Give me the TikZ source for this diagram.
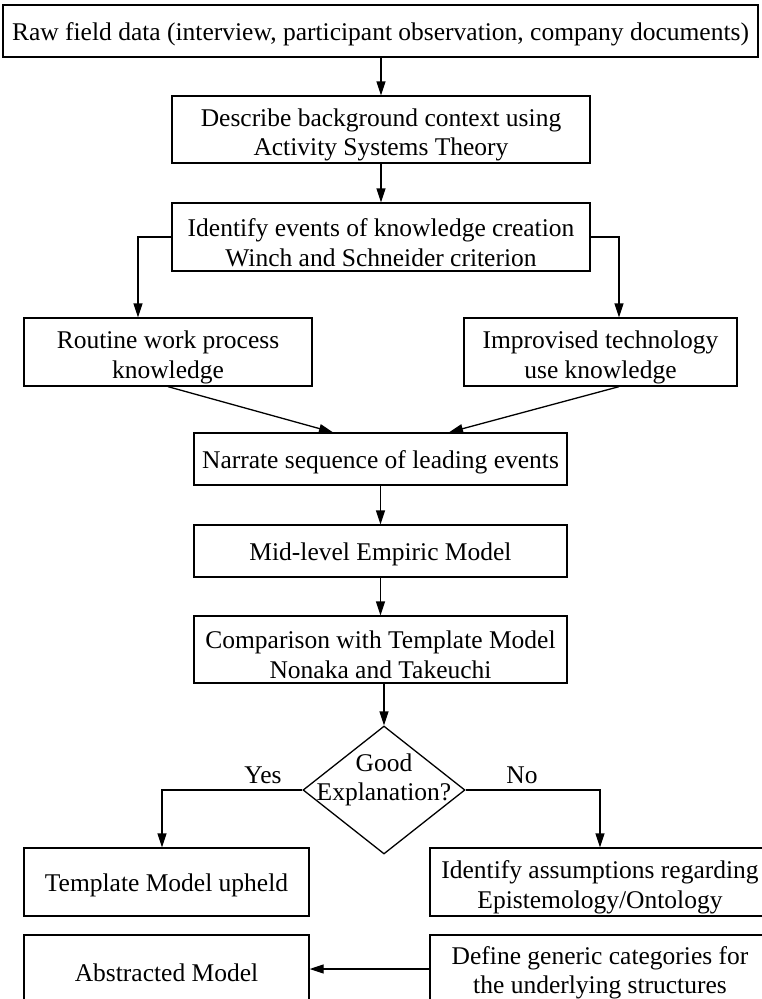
\documentclass[tikz,border=0pt]{standalone}
\usepackage{fontspec}
\setmainfont{Liberation Serif}
\usetikzlibrary{shapes.geometric,arrows.meta}
\begin{document}
\begin{tikzpicture}[x=1pt,y=-1pt,
  every node/.style={font=\fontsize{25.5}{29.5}\selectfont},
  box/.style={draw,line width=1.3pt,align=center,inner sep=0pt,
    execute at begin node={\rule{0pt}{24.5pt}}},
  txt/.style={align=center,inner sep=0pt},
  conn/.style={line width=1.3pt,-{Triangle[length=14pt,width=9pt]}}]
\useasboundingbox (0,0) rectangle (762,999);
\clip (0,0) rectangle (762,999);

\node[box,minimum width=755pt,minimum height=52pt] (raw) at (380.5,31) {Raw field data (interview, participant observation, company documents)};
\node[box,minimum width=418pt,minimum height=67pt] (desc) at (381,129.5) {};
\node[txt] (desc-t) at ([yshift=-5.5pt]desc.center) {Describe background context using\\Activity Systems Theory};
\node[box,minimum width=418pt,minimum height=68pt] (ident) at (381,237) {};
\node[txt] (ident-t) at ([yshift=-5.5pt]ident.center) {Identify events of knowledge creation\\Winch and Schneider criterion};
\node[box,minimum width=288pt,minimum height=68pt] (rout) at (168,352) {};
\node[txt] (rout-t) at ([yshift=-5.5pt]rout.center) {Routine work process\\knowledge};
\node[box,minimum width=273pt,minimum height=68pt] (impr) at (600.5,352) {};
\node[txt] (impr-t) at ([yshift=-5.5pt]impr.center) {Improvised technology\\use knowledge};
\node[box,minimum width=373pt,minimum height=52pt] (narr) at (380.5,459) {Narrate sequence of leading events};
\node[box,minimum width=373pt,minimum height=52pt] (mid) at (380.5,551) {Mid-level Empiric Model};
\node[box,minimum width=373pt,minimum height=67pt] (comp) at (380.5,649.5) {};
\node[txt] (comp-t) at ([yshift=-5.5pt]comp.center) {Comparison with Template Model\\Nonaka and Takeuchi};
\node[draw,diamond,line width=1.3pt,minimum width=162pt,minimum height=128pt,inner sep=0pt] (dec) at (384,790) {};
\node[txt] (dectext) at (384,780) {Good\\Explanation?};
\node (yes) at (263,775) {Yes};
\node (no) at (522,775) {No};
\node[box,minimum width=285pt,minimum height=68pt] (tmpl) at (166.5,882) {Template Model upheld};
\node[box,minimum width=340pt,minimum height=68pt] (assum) at (600,882) {};
\node[txt] (assum-t) at ([yshift=-5.5pt]assum.center) {Identify assumptions regarding\\Epistemology/Ontology};
\node[box,minimum width=285pt,minimum height=68pt] (abs) at (166.5,969) {Abstracted Model};
\node[box,minimum width=340pt,minimum height=68pt] (def) at (600,969) {};
\node[txt] (def-t) at ([yshift=-4pt]def.center) {Define generic categories for\\the underlying structures};

\coordinate (bl) at (138,0);
\coordinate (br) at (619,0);
\coordinate (nl) at (333,0);
\coordinate (nr) at (449,0);
\coordinate (tl) at (162,0);

\draw[conn] (desc.north |- raw.south) -- (desc.north);
\draw[conn] (desc) -- (ident);
\draw[conn] (ident.west) -| (bl |- rout.north);
\draw[conn] (ident.east) -| (br |- impr.north);
\draw[conn] (rout.south) -- (nl |- narr.north);
\draw[conn] (br |- impr.south) -- (nr |- narr.north);
\draw[conn] (narr) -- (mid);
\draw[conn] (mid) -- (comp);
\draw[conn] (comp.south -| dec.north) -- (dec.north);
\draw[conn] (dec.west) -| (tl |- tmpl.north);
\draw[conn] (dec.east) -| (assum.north);
\draw[conn] (def.west) -- (abs.east);
\end{tikzpicture}
\end{document}
